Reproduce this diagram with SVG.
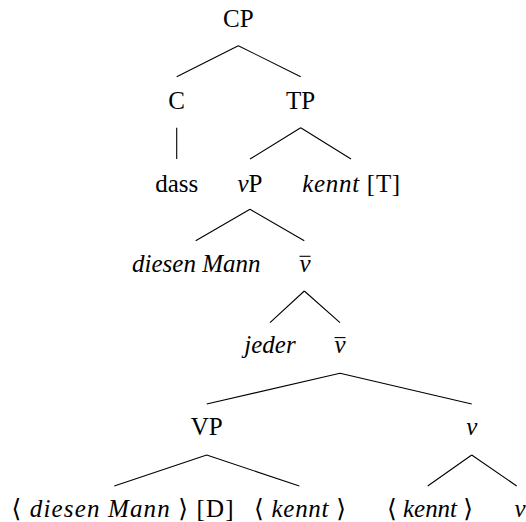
<svg xmlns="http://www.w3.org/2000/svg" width="526" height="522" viewBox="0 0 526 522">
<style>
text{font-family:"Liberation Serif","DejaVu Serif",serif;font-size:25px;fill:#000;text-anchor:middle}
.i{font-style:italic}
.e{stroke:#000;stroke-width:1.1;fill:none}
</style>
<rect width="526" height="522" fill="#fff"/>
<g id="edges" class="e">
<path d="M238.3,45.7 L176.7,76.7 M238.3,45.7 L300.7,76.7"/>
<path d="M176.7,127.7 L176.7,159"/>
<path d="M300.7,127.7 L250,159 M300.7,127.7 L351,159"/>
<path d="M250,209.3 L195.7,240.7 M250,209.3 L304.3,240.7"/>
<path d="M304.3,291 L270,322.7 M304.3,291 L340,322.7"/>
<path d="M340,373.3 L206.7,404 M340,373.3 L471.7,404"/>
<path d="M206.7,455 L114.3,486 M206.7,455 L299.3,486"/>
<path d="M471.7,455 L427.7,486 M471.7,455 L516.7,486"/>
</g>
<g id="CP"><text x="238.3" y="27">CP</text></g>
<g id="C"><text x="176.7" y="109">C</text></g>
<g id="TP"><text x="300.5" y="109">TP</text></g>
<g id="dass"><text x="176.7" y="191.7">dass</text></g>
<g id="vP"><text x="250" y="191.7"><tspan class="i">v</tspan>P</text></g>
<g id="kennt-T"><text x="351.2" y="191.7" textLength="98" lengthAdjust="spacing"><tspan class="i">kennt</tspan> [T]</text></g>
<g id="diesen-Mann"><text x="196.3" y="272" class="i">diesen Mann</text></g>
<g id="vbar1"><text x="305" y="272" class="i">v</text><line class="e" x1="299.5" y1="256.3" x2="310.5" y2="256.3"/></g>
<g id="jeder"><text x="270" y="353.3" class="i">jeder</text></g>
<g id="vbar2"><text x="340" y="353.3" class="i">v</text><line class="e" x1="334.5" y1="337.6" x2="345.5" y2="337.6"/></g>
<g id="VP"><text x="206.7" y="435">VP</text></g>
<g id="v"><text x="471.7" y="435" class="i">v</text></g>
<g id="t-diesen-Mann"><text x="122.5" y="516.5" textLength="222" lengthAdjust="spacing">⟨ <tspan class="i">diesen Mann</tspan> ⟩ [D]</text></g>
<g id="t-kennt1"><text x="300" y="516.5" textLength="92" lengthAdjust="spacing">⟨ <tspan class="i">kennt</tspan> ⟩</text></g>
<g id="t-kennt2"><text x="430" y="516.5" textLength="86" lengthAdjust="spacing">⟨ <tspan class="i">kennt</tspan> ⟩</text></g>
<g id="v-bottom"><text x="520" y="516.5" class="i">v</text></g>
</svg>
